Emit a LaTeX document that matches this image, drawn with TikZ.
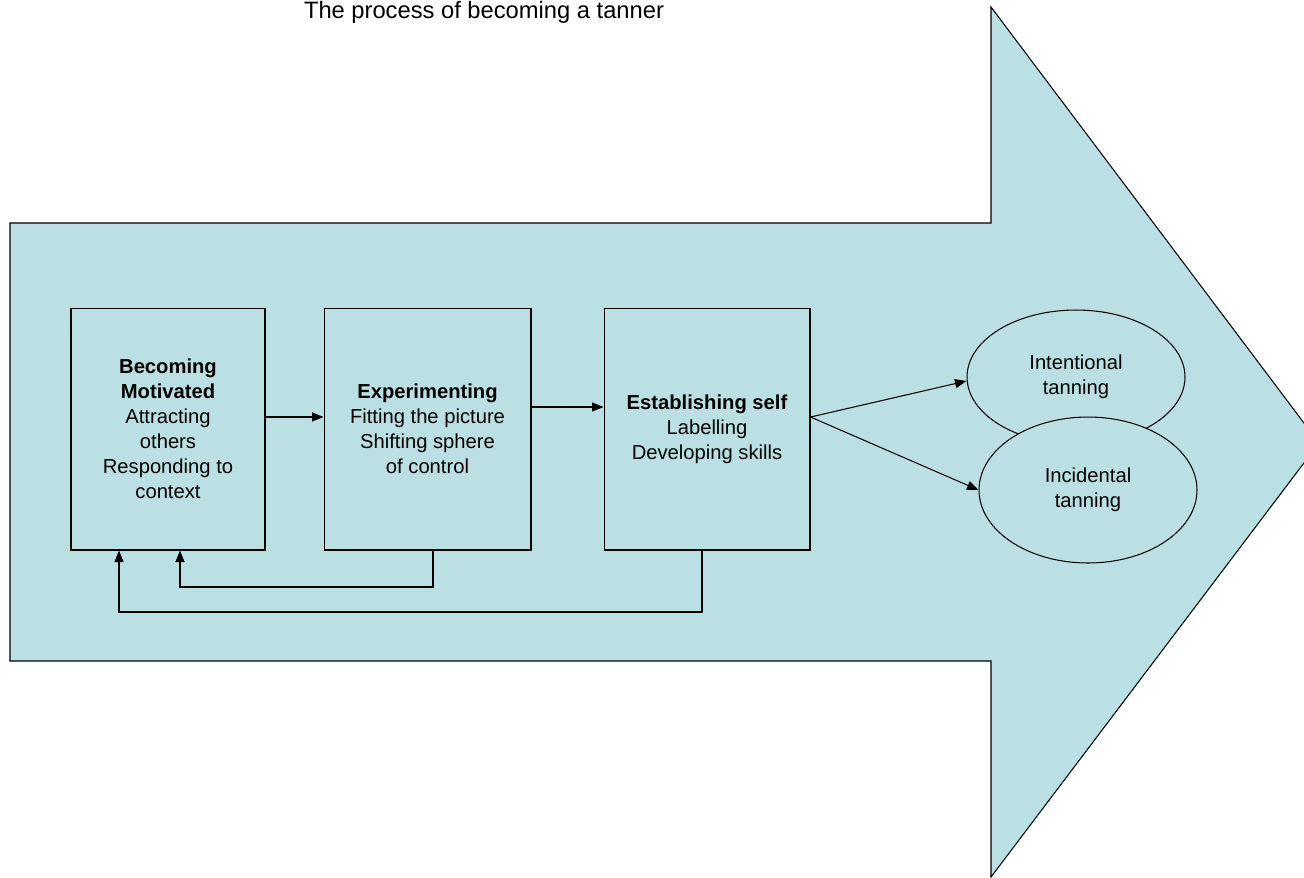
\documentclass[tikz,border=0pt]{standalone}
\usepackage{fontspec}
\setmainfont{Liberation Sans}
\usepackage{xcolor}
\usetikzlibrary{shapes.geometric, arrows.meta, positioning}
\definecolor{tanbg}{RGB}{187,224,227}

\begin{document}
\begin{tikzpicture}[
    x=0.02cm, y=-0.02cm,
    line width=0.6pt,
    stage/.style={rectangle, draw, fill=tanbg, minimum height=4.84cm, inner sep=0pt, align=center, font=\fontsize{11.5}{14.2}\selectfont},
    outcome/.style={ellipse, draw, fill=tanbg, minimum width=4.36cm, inner sep=0pt, align=center, font=\fontsize{11.5}{14.2}\selectfont},
    arrow/.style={-{Triangle[length=0.23cm, width=0.18cm]}}
]
    \useasboundingbox (0,0) rectangle (1304,877);
    \clip (0,0) rectangle (1304,877);

    \draw [fill=tanbg] (10,223) -- (991,223) -- (991,7) -- (1319,443) -- (991,877) -- (991,661) -- (10,661) -- cycle;

    \node (title) at (484,12) {\fontsize{13.5}{16}\selectfont The process of becoming a tanner};

    \node (motiv) [stage, minimum width=3.88cm] at (168,429) {\textbf{Becoming}\\\textbf{Motivated}\\Attracting\\others\\Responding to\\context};
    \node (exper) [stage, minimum width=4.14cm, right=1.16cm of motiv] {\textbf{Experimenting}\\Fitting the picture\\Shifting sphere\\of control};
    \node (estab) [stage, minimum width=4.12cm, right=1.44cm of exper] {\textbf{Establishing self}\\Labelling\\Developing skills};

    \node (intent) [outcome, minimum height=2.68cm] at (1076,377) {Intentional\\tanning};
    \node (incid) [outcome, minimum height=2.92cm] at (1088,490) {Incidental\\tanning};

    \coordinate (loopA) at (180,587);
    \coordinate (loopB) at (119,612);

    \draw [arrow] ([yshift=0.24cm]motiv.east) -- ([yshift=0.24cm]exper.west);
    \draw [arrow] ([yshift=0.44cm]exper.east) -- ([yshift=0.44cm]estab.west);
    \draw [arrow] ([yshift=0.24cm]estab.east) -- ([yshift=-0.08cm]intent.west);
    \draw [arrow] ([yshift=0.24cm]estab.east) -- (incid.west);
    \draw [arrow] ([xshift=0.11cm]exper.south) |- (loopA) -- (loopA |- motiv.south);
    \draw [arrow] ([xshift=-0.1cm]estab.south) |- (loopB) -- (loopB |- motiv.south);
\end{tikzpicture}
\end{document}
